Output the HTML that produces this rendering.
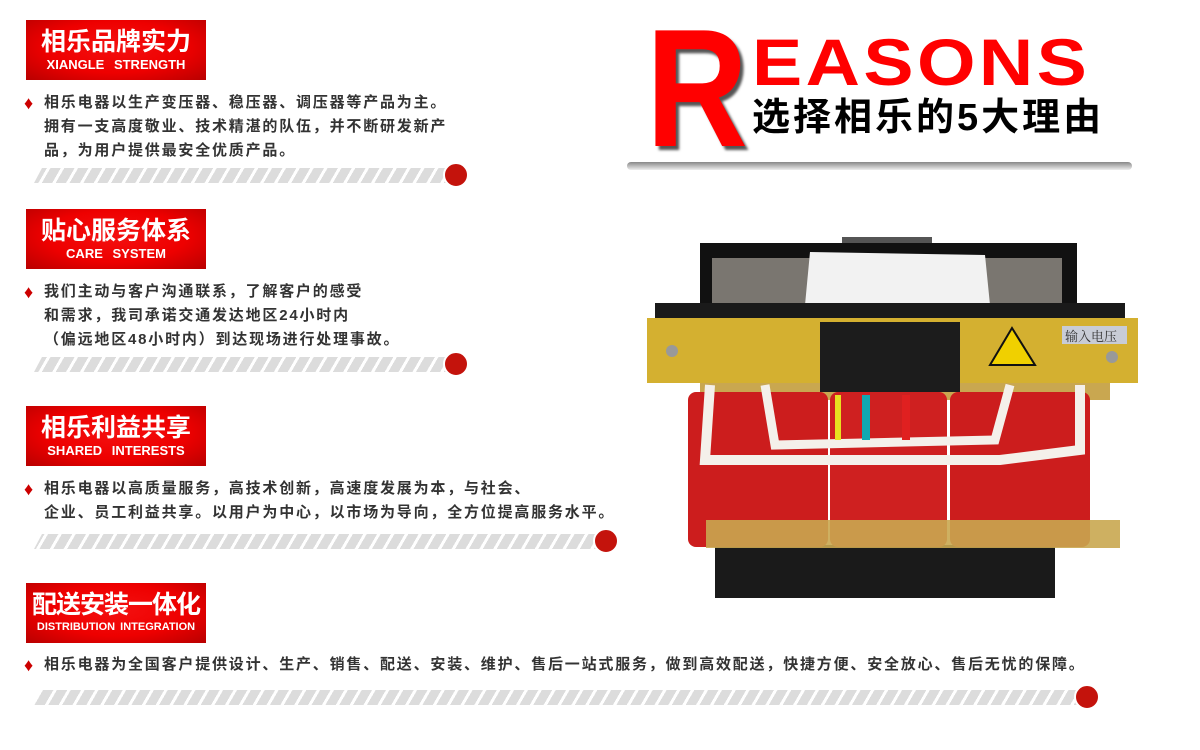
<!DOCTYPE html>
<html><head><meta charset="utf-8"><style>
body{margin:0;width:1200px;height:750px;background:#fff;position:relative;overflow:hidden;font-family:"Liberation Sans","Noto Sans CJK SC",sans-serif}
.box{position:absolute;left:26px;width:180px;height:60px;background:radial-gradient(ellipse at 50% 45%,#f41010 0%,#e00 55%,#b80000 100%);color:#fff;text-align:center}
.box .c{font-size:25px;font-weight:bold;margin-top:7px;line-height:30px}
.box .e{font-size:13px;font-weight:bold;line-height:15px;word-spacing:6px}
.t{position:absolute;left:24px;font-size:15px;color:#333;line-height:24px;font-weight:bold;letter-spacing:1.8px;white-space:nowrap}
.t p{margin:0;padding-left:20px}
.d{position:absolute;left:0;top:0px;color:#c00;font-size:18px}
.bar{position:absolute;height:15px;background:repeating-linear-gradient(-60deg,#dcdcdc 0 9px,#fff 9px 12px);clip-path:polygon(8px 0,100% 0,100% 100%,0 100%)}
.dot{position:absolute;width:22px;height:22px;border-radius:50%;background:#c4130c;border:2px solid #fff;box-sizing:content-box}
</style></head><body>
<div class="box" style="top:20px"><div class="c">相乐品牌实力</div><div class="e">XIANGLE STRENGTH</div></div>
<div class="t" style="top:91px"><span class="d">♦</span><p>相乐电器以生产变压器、稳压器、调压器等产品为主。</p><p>拥有一支高度敬业、技术精湛的队伍，并不断研发新产</p><p>品，为用户提供最安全优质产品。</p></div>
<div class="bar" style="left:34px;top:168px;width:420px"></div><div class="dot" style="left:443px;top:162px"></div>

<div class="box" style="top:209px"><div class="c">贴心服务体系</div><div class="e">CARE SYSTEM</div></div>
<div class="t" style="top:280px"><span class="d">♦</span><p>我们主动与客户沟通联系，了解客户的感受</p><p>和需求，我司承诺交通发达地区24小时内</p><p>（偏远地区48小时内）到达现场进行处理事故。</p></div>
<div class="bar" style="left:34px;top:357px;width:420px"></div><div class="dot" style="left:443px;top:351px"></div>

<div class="box" style="top:406px"><div class="c">相乐利益共享</div><div class="e">SHARED INTERESTS</div></div>
<div class="t" style="top:477px"><span class="d">♦</span><p>相乐电器以高质量服务，高技术创新，高速度发展为本，与社会、</p><p>企业、员工利益共享。以用户为中心，以市场为导向，全方位提高服务水平。</p></div>
<div class="bar" style="left:34px;top:534px;width:570px"></div><div class="dot" style="left:593px;top:528px"></div>

<div class="box" style="top:583px"><div class="c" style="letter-spacing:-1px">配送安装一体化</div><div class="e" style="font-size:11px;word-spacing:2px">DISTRIBUTION INTEGRATION</div></div>
<div class="t" style="top:653px"><span class="d">♦</span><p>相乐电器为全国客户提供设计、生产、销售、配送、安装、维护、售后一站式服务，做到高效配送，快捷方便、安全放心、售后无忧的保障。</p></div>
<div class="bar" style="left:34px;top:690px;width:1050px"></div><div class="dot" style="left:1074px;top:684px"></div>

<div style="position:absolute;left:646px;top:4px;font-size:168px;font-weight:bold;color:#f00;line-height:168px;text-shadow:4px 4px 3px #555;transform:scaleX(0.84);transform-origin:left">R</div>
<div style="position:absolute;left:752px;top:26px;font-size:66px;font-weight:bold;color:#f00;line-height:72px;letter-spacing:3px;transform:scaleX(1.14);transform-origin:left top">EASONS</div>
<div style="position:absolute;left:752px;top:96px;font-size:38px;font-weight:bold;color:#000;line-height:44px;letter-spacing:3px">选择相乐的5大理由</div>
<div style="position:absolute;left:627px;top:162px;width:505px;height:8px;border-radius:4px;background:linear-gradient(#888,#eee)"></div>

<svg style="position:absolute;left:0;top:0" width="1200" height="750">
<rect x="842" y="237" width="90" height="12" fill="#555"/>
<rect x="700" y="243" width="377" height="80" fill="#111"/>
<rect x="712" y="258" width="350" height="45" fill="#7a7670"/>
<polygon points="810,252 985,255 990,305 805,305" fill="#f2f2f2"/>
<rect x="655" y="303" width="470" height="15" fill="#1a1a1a"/>
<rect x="715" y="545" width="340" height="53" fill="#1a1a1a"/>
<rect x="700" y="380" width="410" height="20" fill="#c9a750"/>
<rect x="688" y="392" width="140" height="155" rx="8" fill="#cc1d1d"/>
<rect x="830" y="392" width="117" height="155" rx="8" fill="#cf2020"/>
<rect x="950" y="392" width="140" height="155" rx="8" fill="#cc1d1d"/>
<rect x="706" y="520" width="414" height="28" fill="#c9a750" opacity="0.9"/>
<path d="M710,385 L705,460 L1000,460 L1080,450 L1080,385" fill="none" stroke="#f4f0ea" stroke-width="10"/>
<path d="M765,385 L775,445 L995,440 L1010,385" fill="none" stroke="#f4f0ea" stroke-width="9"/>
<rect x="647" y="318" width="491" height="65" fill="#d4b030"/>
<rect x="820" y="322" width="140" height="70" fill="#1c1c1c"/>
<rect x="835" y="395" width="6" height="45" fill="#e8e020"/>
<rect x="862" y="395" width="8" height="45" fill="#10a8b0"/>
<rect x="902" y="395" width="8" height="45" fill="#e02020"/>
<polygon points="1012,328 990,365 1035,365" fill="#f0d000" stroke="#111" stroke-width="2"/>
<rect x="1062" y="326" width="65" height="18" fill="#c8ccd6"/>
<text x="1065" y="341" font-size="13" fill="#333" font-family="Noto Serif CJK SC,serif">输入电压</text>
<circle cx="672" cy="351" r="6" fill="#999"/><circle cx="1112" cy="357" r="6" fill="#999"/>
</svg>
</body></html>
